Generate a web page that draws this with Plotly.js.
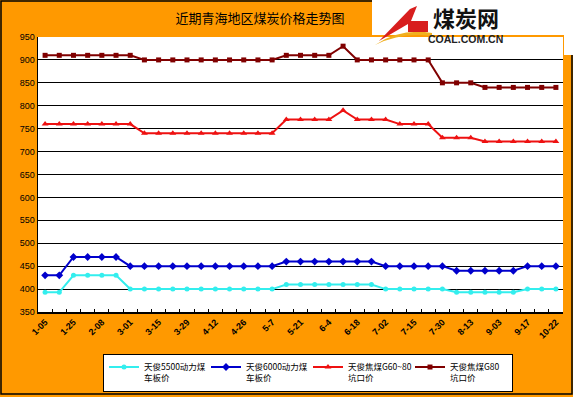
<!DOCTYPE html>
<html>
<head>
<meta charset="utf-8">
<script src="https://cdn.plot.ly/plotly-3.0.1.min.js"></script>
<style>html,body{margin:0;padding:0;background:#fff;}#chart{width:576px;height:397px;}</style>
</head>
<body>
<div id="chart"></div>
<script>
// ---- data ----
const categories = ['1-05','1-15','1-25','2-01','2-08','2-22','3-01','3-08','3-15','3-22','3-29','4-05','4-12','4-19','4-26','5-01','5-7','5-14','5-21','5-28','6-4','6-11','6-18','6-25','7-02','7-09','7-15','7-22','7-30','8-06','8-13','8-20','9-03','9-10','9-17','10-15','10-22'];
const seriesNames = ['天俊5500动力煤<br>车板价','天俊6000动力煤<br>车板价','天俊焦煤G60~80<br>坑口价','天俊焦煤G80<br>坑口价'];
const tj5500 = [393,393,430,430,430,430,400,400,400,400,400,400,400,400,400,400,400,410,410,410,410,410,410,410,400,400,400,400,400,393,393,393,393,393,400,400,400];
const tj6000 = [430,430,470,470,470,470,450,450,450,450,450,450,450,450,450,450,450,460,460,460,460,460,460,460,450,450,450,450,450,440,440,440,440,440,450,450,450];
const jmG6080 = [760,760,760,760,760,760,760,740,740,740,740,740,740,740,740,740,740,770,770,770,770,790,770,770,770,760,760,760,730,730,730,722,722,722,722,722,722];
const jmG80 = [910,910,910,910,910,910,910,900,900,900,900,900,900,900,900,900,900,910,910,910,910,930,900,900,900,900,900,900,850,850,850,840,840,840,840,840,840];
const yTicks = [350,400,450,500,550,600,650,700,750,800,850,900,950];
const tickText = categories.map((c, i) => (i % 2 === 0 ? c : ''));

// ---- geometry helpers (pixels -> paper) ----
const W = 576, H = 397;
const M = {l: 38, r: 13, t: 37, b: 85, autoexpand: false};
const pw = W - M.l - M.r, ph = H - M.t - M.b;
const px = x => (x - M.l) / pw;
const py = y => (H - M.b - y) / ph;

const colors = ['#33EEEE', '#0000CC', '#EE1111', '#800000'];
const symbols = ['circle', 'diamond', 'triangle-up', 'square'];
const sizes = [5, 6, 6, 5];
const ys = [tj5500, tj6000, jmG6080, jmG80];

const traces = ys.map((y, i) => ({
  type: 'scatter', mode: 'lines+markers',
  x: categories, y: y, name: seriesNames[i],
  line: {color: colors[i], width: 2},
  marker: {color: colors[i], symbol: symbols[i], size: sizes[i]},
  hoverinfo: 'skip'
}));

const shapes = [
  // outer border
  {type: 'rect', xref: 'paper', yref: 'paper', x0: px(1), x1: px(572), y0: py(1), y1: py(394), line: {color: '#000', width: 1.5}, layer: 'below'},
  // logo white area
  {type: 'rect', xref: 'paper', yref: 'paper', x0: px(372), x1: px(577), y0: py(-1), y1: py(35), fillcolor: '#fff', line: {width: 0}},
  {type: 'rect', xref: 'paper', yref: 'paper', x0: px(564), x1: px(577), y0: py(34), y1: py(55), fillcolor: '#fff', line: {width: 0}},
  {type: 'rect', xref: 'paper', yref: 'paper', x0: px(573), x1: px(577), y0: py(54), y1: py(398), fillcolor: '#fff', line: {width: 0}},
  // logo swoosh (yellow)
  {type: 'path', xref: 'paper', yref: 'paper',
   path: `M ${px(375)} ${py(45)} Q ${px(400)} ${py(28)} ${px(432)} ${py(33)} L ${px(432)} ${py(36)} Q ${px(402)} ${py(32)} ${px(375)} ${py(45)} Z`,
   fillcolor: '#F0B020', line: {width: 0}},
  // logo red stroke
  {type: 'path', xref: 'paper', yref: 'paper',
   path: `M ${px(379)} ${py(41)} L ${px(410)} ${py(9)} L ${px(417)} ${py(6)} L ${px(411)} ${py(21)} L ${px(428)} ${py(21)} L ${px(428)} ${py(32)} L ${px(408)} ${py(32)} L ${px(408)} ${py(24)} Z`,
   fillcolor: '#D81E1E', line: {width: 0}}
];

const annotations = [
  {xref: 'paper', yref: 'paper', x: px(466), y: py(17), text: '<b>煤炭网</b>', showarrow: false,
   font: {family: 'Noto Sans CJK SC', size: 22, color: '#111'}, xanchor: 'center', yanchor: 'middle', borderpad: 0},
  {xref: 'paper', yref: 'paper', x: px(465), y: py(39), text: '<b>COAL.COM.CN</b>', showarrow: false,
   font: {family: 'Liberation Sans, Arial', size: 10.5, color: '#222'}, xanchor: 'center', yanchor: 'middle', borderpad: 0}
];

const layout = {
  width: W, height: H,
  margin: M,
  paper_bgcolor: '#FF9900',
  plot_bgcolor: '#FFFFFF',
  showlegend: true,
  title: {text: '近期青海地区煤炭价格走势图', x: 260 / W, xref: 'container', xanchor: 'center',
          y: 1 - 18 / H, yref: 'container', yanchor: 'middle',
          font: {family: 'Noto Sans CJK SC', size: 13, color: '#000'}},
  xaxis: {
    type: 'category', range: [-0.5, categories.length - 0.5],
    tickmode: 'array', tickvals: categories, ticktext: tickText,
    tickson: 'boundaries', ticks: 'inside', ticklen: 3, tickcolor: '#000',
    tickangle: -45, tickfont: {family: 'Liberation Sans, Arial', size: 9, color: '#000', weight: 'bold'},
    showline: true, linecolor: '#000', linewidth: 1.5, showgrid: false, zeroline: false, fixedrange: true
  },
  yaxis: {
    range: [350, 950], tickmode: 'array', tickvals: yTicks, ticktext: yTicks.map(String),
    tickfont: {family: 'Liberation Sans, Arial', size: 9, color: '#000'},
    showgrid: true, gridcolor: '#000', gridwidth: 1,
    showline: true, linecolor: '#000', linewidth: 1.5, zeroline: false, ticks: '', fixedrange: true
  },
  legend: {
    orientation: 'h', x: px(103), xanchor: 'left', y: py(361), yanchor: 'top',
    bgcolor: '#FFFFFF', bordercolor: '#000', borderwidth: 1,
    font: {family: 'Noto Sans CJK SC', size: 8.5, color: '#000'},
    entrywidth: 57, itemwidth: 30, tracegroupgap: 0, valign: 'top'
  },
  shapes: shapes,
  annotations: annotations
};

Plotly.newPlot('chart', traces, layout, {staticPlot: true, displayModeBar: false}).then(gd => {
  // keep legend box inside the frame: measure and nudge its height-based position
  const bg = gd.querySelector('.legend .bg');
  if (bg) {
    const h = parseFloat(bg.getAttribute('height'));
    const targetBottom = 391;
    const top = Math.min(361, targetBottom - h);
    Plotly.relayout(gd, {'legend.y': py(top)});
  }
});
</script>
</body>
</html>
